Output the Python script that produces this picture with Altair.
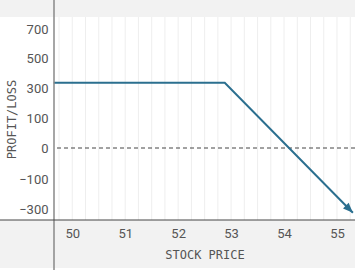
import altair as alt
import pandas as pd

# ---- data ----
price = [49.65, 52.88, 55.30]          # stock price at line vertices
profit = [335, 335, -325]              # profit / loss at those vertices
x_ticks = [50, 51, 52, 53, 54, 55]
y_ticks = [-300, -100, 0, 100, 300, 500, 700]
y_tick_px = [192, 162, 131, 101, 71, 41, 12]   # label positions (uneven labelling in source)
grid_x = [49.75 + 0.25 * i for i in range(23)]

W, H = 301, 203
L, T, B = 54, 17, 53

line_df = pd.DataFrame({"price": price, "profit": profit})
end_df = line_df.tail(1)
grid_df = pd.DataFrame({"g": grid_x})

xs = alt.Scale(domain=[49.655, 55.34], nice=False, zero=False)
ys = alt.Scale(domain=y_ticks, range=y_tick_px, nice=False, zero=False)

MONO = "DejaVu Sans Mono"
SANS = "Roboto"

x_axis = alt.Axis(values=x_ticks, domain=False, ticks=False, grid=False,
                  labelFont=SANS, labelFontSize=13, labelColor="#555",
                  labelPadding=7, title="STOCK PRICE", titleFont=MONO,
                  titleFontSize=12, titleFontWeight="normal", titleColor="#555",
                  titlePadding=9, zindex=2, labelOverlap=False)
y_axis = alt.Axis(values=y_ticks, domain=False, ticks=False, grid=False,
                  labelFont=SANS, labelFontSize=13, labelColor="#555",
                  labelPadding=6, title="PROFIT/LOSS", titleFont=MONO,
                  titleFontSize=12, titleFontWeight="normal", titleColor="#555",
                  titlePadding=0, zindex=2, labelOverlap=False)

band_top = alt.Chart(pd.DataFrame({"a": [0]})).mark_rect(color="#f2f2f2", clip=False).encode(
    x=alt.value(-L), x2=alt.value(W), y=alt.value(-T), y2=alt.value(0)
)
band_bot = alt.Chart(pd.DataFrame({"a": [0]})).mark_rect(color="#f2f2f2", clip=False).encode(
    x=alt.value(-L), x2=alt.value(W), y=alt.value(H), y2=alt.value(H + 48)
)

grid = alt.Chart(grid_df).mark_rule(color="#eeeeee", strokeWidth=1).encode(
    x=alt.X("g:Q", scale=xs, axis=x_axis),
)

zero = alt.Chart(pd.DataFrame({"z": [0]})).mark_rule(
    color="#444", strokeDash=[4, 3], strokeWidth=1
).encode(
    y=alt.Y("z:Q", scale=ys, axis=y_axis)
)

vaxis = alt.Chart(pd.DataFrame({"a": [0]})).mark_rule(color="#888", strokeWidth=1.5, clip=False).encode(
    x=alt.value(0), y=alt.value(-T), y2=alt.value(H + 50)
)
haxis = alt.Chart(pd.DataFrame({"a": [0]})).mark_rule(color="#444", strokeWidth=1, clip=False).encode(
    x=alt.value(-L), x2=alt.value(W), y=alt.value(H)
)

line = alt.Chart(line_df).mark_line(color="#2b6f8f", strokeWidth=2).encode(
    x=alt.X("price:Q", scale=xs, axis=x_axis),
    y=alt.Y("profit:Q", scale=ys, axis=y_axis),
)

arrow = alt.Chart(end_df).mark_point(
    shape="M0,0L-0.8,2L0.8,2Z", angle=135, filled=True, color="#2b6f8f",
    size=100, opacity=1, clip=False
).encode(
    x=alt.X("price:Q", scale=xs, axis=x_axis),
    y=alt.Y("profit:Q", scale=ys, axis=y_axis),
)

chart = alt.layer(band_top, band_bot, grid, zero, line, arrow, vaxis, haxis).properties(
    width=W, height=H,
    autosize=alt.AutoSizeParams(type="none"),
    padding={"left": L, "top": T, "right": 0, "bottom": B},
    background="white",
).configure_view(stroke=None)

chart.save("out.html", embed_options={"renderer": "svg", "actions": False})
